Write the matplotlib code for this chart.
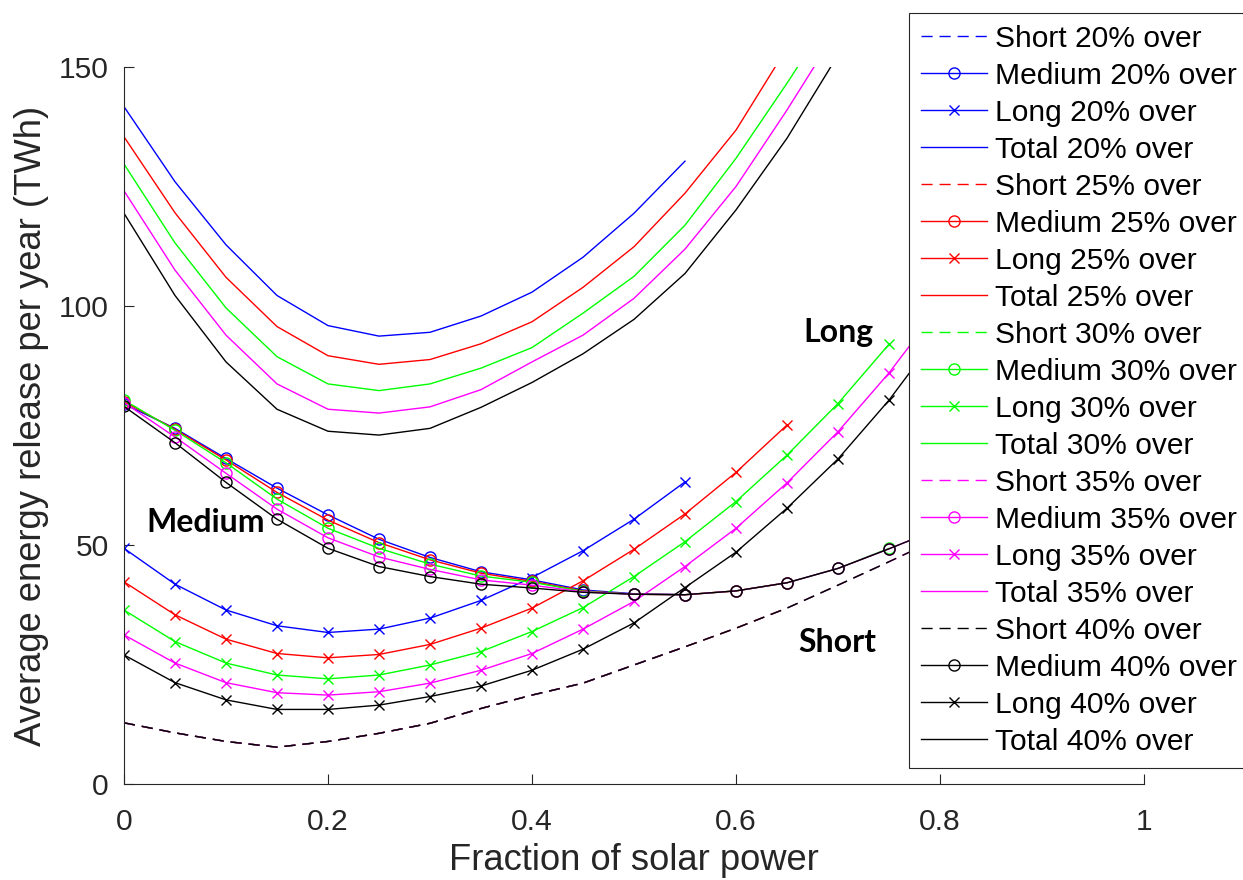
import matplotlib
matplotlib.use("Agg")
import matplotlib.pyplot as plt

plt.rcParams['font.family'] = ['Liberation Sans', 'DejaVu Sans']

x = [0, 0.05, 0.1, 0.15, 0.2, 0.25, 0.3, 0.35, 0.4, 0.45, 0.5, 0.55,
     0.6, 0.65, 0.7, 0.75, 0.8]

levels = ["20%", "25%", "30%", "35%", "40%"]
colors = ["#0000ff", "#ff0000", "#00ff00", "#ff00ff", "#000000"]

# short-term release (dashed)
short_20 = [12.8, 10.7, 8.9, 7.7, 8.9, 10.6, 12.7, 15.8, 18.6, 21.1, 24.9, 28.7]
short_25 = [12.8, 10.7, 8.9, 7.7, 8.9, 10.6, 12.7, 15.8, 18.6, 21.1, 24.9, 28.7,
            32.6, 36.8]
short_30 = [12.8, 10.7, 8.9, 7.7, 8.9, 10.6, 12.7, 15.8, 18.6, 21.1, 24.9, 28.7,
            32.6, 36.8, 41.6, 46.5]
short_35 = [12.8, 10.7, 8.9, 7.7, 8.9, 10.6, 12.7, 15.8, 18.6, 21.1, 24.9, 28.7,
            32.6, 36.8, 41.6, 46.5, 51.5]
short_40 = [12.8, 10.7, 8.9, 7.7, 8.9, 10.6, 12.7, 15.8, 18.6, 21.1, 24.9, 28.7,
            32.6, 36.8, 41.6, 46.5, 51.5]

# medium-term release (circles)
medium_20 = [79.5, 74.4, 68.1, 61.9, 56.3, 51.2, 47.4, 44.4, 42.7, 40.6, 39.8, 39.6]
medium_25 = [80.0, 74.2, 67.8, 61.0, 55.2, 50.5, 46.9, 44.1, 42.4, 40.4, 39.7, 39.6,
             40.4, 42.1]
medium_30 = [80.3, 74.0, 67.2, 59.6, 53.5, 49.3, 46.0, 43.5, 42.2, 40.3, 39.7, 39.6,
             40.4, 42.1, 45.1, 49.3]
medium_35 = [79.8, 72.6, 65.0, 57.5, 51.5, 47.5, 44.9, 42.7, 41.6, 40.2, 39.7, 39.6,
             40.4, 42.1, 45.1, 49.2, 53.5]
medium_40 = [79.0, 71.4, 63.1, 55.4, 49.3, 45.5, 43.4, 41.8, 41.0, 40.1, 39.7, 39.6,
             40.4, 42.1, 45.1, 49.2, 53.5]

# long-term release (x markers)
long_20 = [49.3, 41.8, 36.4, 33.1, 31.7, 32.4, 34.7, 38.4, 43.2, 48.8, 55.4, 63.2]
long_25 = [42.3, 35.4, 30.3, 27.3, 26.4, 27.1, 29.2, 32.6, 36.8, 42.5, 49.1, 56.5,
           65.2, 75.1]
long_30 = [36.4, 29.8, 25.3, 22.8, 22.0, 22.8, 24.9, 27.7, 31.9, 36.9, 43.4, 50.7,
           59.1, 68.8, 79.6, 92.0]
long_35 = [31.2, 25.3, 21.2, 19.1, 18.6, 19.3, 21.1, 23.8, 27.3, 32.4, 38.2, 45.5,
           53.5, 63.0, 73.7, 86.0, 100.0]
long_40 = [27.0, 21.2, 17.6, 15.6, 15.6, 16.5, 18.3, 20.5, 23.8, 28.2, 33.7, 41.1,
           48.5, 57.7, 68.0, 80.3, 94.5]

# total release (solid)
total_20 = [141.7, 126.0, 112.8, 102.2, 95.9, 93.7, 94.5, 97.9, 102.9, 110.2, 119.4,
            130.3]
total_25 = [135.4, 119.5, 106.0, 95.7, 89.6, 87.8, 88.8, 92.1, 96.7, 103.9, 112.4,
            123.6, 136.8, 154.0]
total_30 = [129.7, 113.2, 99.6, 89.4, 83.7, 82.3, 83.7, 87.0, 91.3, 98.5, 106.2,
            116.9, 130.9, 146.6, 163.0, 180.0]
total_35 = [124.1, 107.5, 93.9, 83.7, 78.4, 77.6, 78.9, 82.5, 88.3, 93.9, 101.6,
            111.9, 125.0, 141.0, 158.0, 177.0, 197.0]
total_40 = [119.4, 102.2, 88.3, 78.4, 73.8, 73.0, 74.4, 78.8, 84.0, 90.0, 97.2,
            106.8, 120.1, 135.1, 152.5, 171.0, 190.0]

shorts = [short_20, short_25, short_30, short_35, short_40]
mediums = [medium_20, medium_25, medium_30, medium_35, medium_40]
longs = [long_20, long_25, long_30, long_35, long_40]
totals = [total_20, total_25, total_30, total_35, total_40]

fig = plt.figure(figsize=(12.43, 8.80), dpi=100)
ax = fig.add_axes([124 / 1243, 1 - 784 / 880, 1020 / 1243, 717 / 880])

lw = 1.0
for i in range(5):
    c = colors[i]
    lv = levels[i]
    s = shorts[i]
    m = mediums[i]
    l = longs[i]
    t = totals[i]
    ax.plot(x[:len(s)], s, color=c, lw=lw, linestyle=(0, (8, 5)),
            label="Short " + lv + " over")
    ax.plot(x[:len(m)], m, color=c, lw=lw, marker='o', ms=8, mfc='none',
            mew=1.0, label="Medium " + lv + " over")
    ax.plot(x[:len(l)], l, color=c, lw=lw, marker='x', ms=7.5, mew=1.0,
            label="Long " + lv + " over")
    ax.plot(x[:len(t)], t, color=c, lw=lw, label="Total " + lv + " over")

ax.set_xlim(0, 1)
ax.set_ylim(0, 150)
ax.set_xticks([0, 0.2, 0.4, 0.6, 0.8, 1])
ax.set_xticklabels(["0", "0.2", "0.4", "0.6", "0.8", "1"])
ax.set_yticks([0, 50, 100, 150])

axis_color = "#262626"
for side in ["top", "right"]:
    ax.spines[side].set_visible(False)
for side in ["left", "bottom"]:
    ax.spines[side].set_color(axis_color)
    ax.spines[side].set_linewidth(0.8)
ax.tick_params(axis='both', direction='in', length=7, width=0.8,
               colors=axis_color, labelsize=21.6)
ax.tick_params(axis='x', pad=17)
ax.tick_params(axis='y', pad=11)

ax.set_xlabel("Fraction of solar power", fontsize=26.2, color=axis_color,
              labelpad=5)
ax.set_ylabel("Average energy release per year (TWh)", fontsize=26.2,
              color=axis_color, labelpad=7)

ax.text(0.70, 92.5, "Long", family=['Lato', 'DejaVu Sans'], fontweight='bold',
        fontsize=23, ha='center', va='baseline')
ax.text(0.080, 52.8, "Medium", family=['Lato', 'DejaVu Sans'], fontweight='bold',
        fontsize=23, ha='center', va='baseline')
ax.text(0.699, 27.7, "Short", family=['Lato', 'DejaVu Sans'], fontweight='bold',
        fontsize=23, ha='center', va='baseline')

leg = ax.legend(loc='upper left', bbox_to_anchor=(909 / 1243, 1 - 13 / 880),
                bbox_transform=fig.transFigure, borderaxespad=0,
                fontsize=21.6, numpoints=1, handlelength=2.2,
                handletextpad=0.27, labelspacing=0.3, borderpad=0.4,
                fancybox=False, framealpha=1, edgecolor=axis_color)
leg.get_frame().set_linewidth(0.8)

fig.savefig("out.png", dpi=100)
print("saved")
